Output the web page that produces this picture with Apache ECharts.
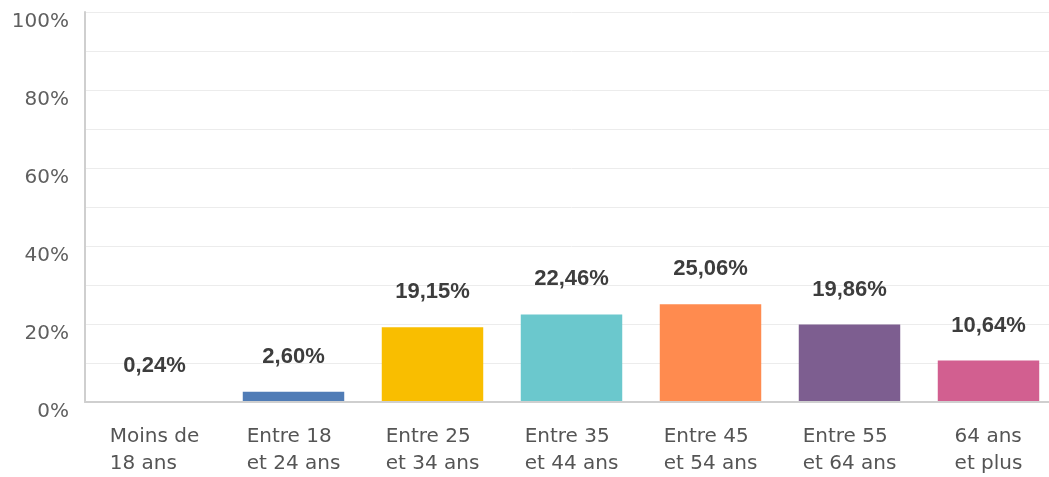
<!DOCTYPE html>
<html>
<head>
<meta charset="utf-8">
<script src="https://cdn.jsdelivr.net/npm/echarts@6/dist/echarts.min.js"></script>
<style>
  html, body { margin: 0; padding: 0; background: #fff; overflow: hidden; }
  #chart { width: 1058px; height: 477px; }
</style>
</head>
<body>
<div id="chart"></div>
<script>
const categories = [
  'Moins de\n18 ans',
  'Entre 18\net 24 ans',
  'Entre 25\net 34 ans',
  'Entre 35\net 44 ans',
  'Entre 45\net 54 ans',
  'Entre 55\net 64 ans',
  '64 ans\net plus',
]
const values = [0.24, 2.60, 19.15, 22.46, 25.06, 19.86, 10.64]
const barColors = ['#00BF6F', '#507CB6', '#F9BE00', '#6BC8CD', '#FF8B4F', '#7D5E90', '#D25F90']
const tickLabels = [0, 20, 40, 60, 80, 100]

const axisFont = 'DejaVu Sans, sans-serif'
const valueFont = 'Liberation Sans, Arial, sans-serif'
const chart = echarts.init(document.getElementById('chart'))

chart.setOption({
  animation: false,
  grid: { left: 85, right: 0, top: 12, bottom: 75 },
  xAxis: {
    type: 'category',
    data: categories,
    z: 5,
    axisTick: { show: false },
    axisLine: { lineStyle: { color: '#cfcfcf', width: 2 } },
    axisLabel: {
      interval: 0,
      margin: 21,
      color: '#555',
      fontSize: 20,
      fontFamily: axisFont,
      lineHeight: 27,
      formatter: v => v.split('\n').map(s => '{a|' + s + '}').join('\n'),
      rich: { a: { align: 'left', fontSize: 20, color: '#555', fontFamily: axisFont, lineHeight: 27 } },
    },
  },
  yAxis: {
    type: 'value',
    min: 0,
    max: 100,
    interval: 10,
    axisLine: { show: true, lineStyle: { color: '#cfcfcf', width: 2 } },
    axisTick: { show: false },
    splitLine: { lineStyle: { color: '#ececec' } },
    axisLabel: {
      margin: 16,
      color: '#5f5f5f',
      fontSize: 20,
      fontFamily: axisFont,
      verticalAlign: 'top',
      formatter: v => tickLabels.includes(v) ? v + '%' : '',
    },
  },
  series: [{
    type: 'bar',
    barWidth: '73%',
    data: values.map((v, i) => ({ value: v, itemStyle: { color: barColors[i] } })),
    label: {
      show: true,
      position: 'top',
      distance: 24,
      color: '#3d3d3d',
      fontSize: 22,
      fontWeight: 'bold',
      fontFamily: valueFont,
      formatter: p => p.value.toFixed(2).replace('.', ',') + '%',
    },
  }],
})
</script>
</body>
</html>
